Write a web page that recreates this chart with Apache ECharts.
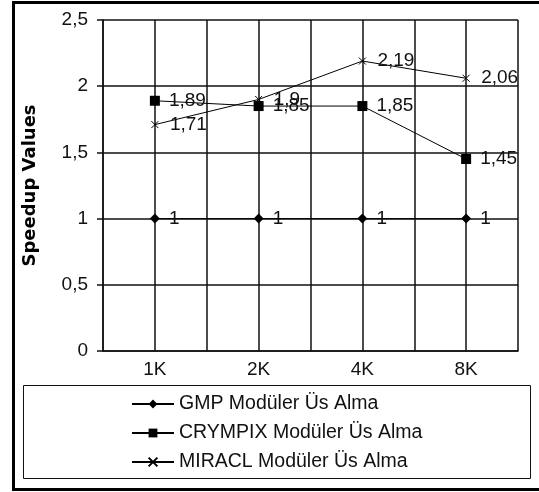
<!DOCTYPE html>
<html>
<head>
<meta charset="utf-8">
<script src="https://cdn.jsdelivr.net/npm/echarts@6/dist/echarts.min.js"></script>
<style>
  html, body { margin: 0; padding: 0; background: #fff; }
  #chart { width: 539px; height: 492px; }
</style>
</head>
<body>
<div id="chart"></div>
<script>
// veriler
const categories = ['1K', '2K', '4K', '8K']
const gmpValues = [1, 1, 1, 1]
const crympixValues = [1.89, 1.85, 1.85, 1.45]
const miraclValues = [1.71, 1.9, 2.19, 2.06]
const seriesNames = [
  'GMP Modüler Üs Alma',
  'CRYMPIX Modüler Üs Alma',
  'MIRACL Modüler Üs Alma',
]

;(function () {
  speedupChart()
})()

function commaFmt(v) {
  return String(v).replace('.', ',')
}

function speedupChart() {
  let chart = echarts.init(document.getElementById('chart'))
  let font = 'Liberation Sans, Arial, sans-serif'
  let gridLine = { lineStyle: { color: '#111', width: 1.5 } }
  let label = {
    show: true,
    position: 'right',
    distance: 9,
    color: '#111',
    fontSize: 19,
    fontFamily: font,
    formatter: (p) => commaFmt(p.value),
  }
  let option = {
    animation: false,
    backgroundColor: '#fff',
    grid: { left: 103, right: 21, top: 20, bottom: 141 },
    xAxis: [
      {
        type: 'category',
        data: categories,
        boundaryGap: true,
        axisLine: { lineStyle: { color: '#111', width: 1.5 } },
        axisTick: { show: false },
        axisLabel: { color: '#111', fontSize: 19, fontFamily: font, margin: 9 },
        splitLine: { show: false },
      },
      {
        // ızgara çizgileri (yarım kategori aralıkları)
        type: 'value',
        min: 0,
        max: 8,
        interval: 1,
        position: 'bottom',
        axisLine: { show: false },
        axisTick: { show: false },
        axisLabel: { show: false },
        splitLine: { show: true, ...gridLine },
      },
    ],
    yAxis: {
      type: 'value',
      min: 0,
      max: 2.5,
      interval: 0.5,
      name: 'Speedup Values',
      nameLocation: 'middle',
      nameGap: 64,
      nameTextStyle: { fontSize: 18, fontWeight: 'bold', fontFamily: 'DejaVu Sans', color: '#000' },
      axisLine: { show: true, lineStyle: { color: '#111', width: 1.5 } },
      axisTick: { show: true, length: 6, lineStyle: { color: '#111', width: 1.5 } },
      axisLabel: {
        color: '#111',
        fontSize: 19,
        fontFamily: font,
        margin: 15,
        formatter: commaFmt,
      },
      splitLine: { show: true, ...gridLine },
    },
    legend: {
      orient: 'vertical',
      left: 126,
      top: 389,
      itemGap: 9,
      itemWidth: 42,
      itemHeight: 11,
      textStyle: { color: '#111', fontSize: 19.5, lineHeight: 19, fontFamily: font },
      data: seriesNames,
    },
    graphic: [
      {
        type: 'rect',
        shape: { x: 23.5, y: 385.5, width: 507, height: 93 },
        style: { fill: 'none', stroke: '#111', lineWidth: 1 },
        z: -1,
      },
      {
        type: 'rect',
        shape: { x: 13.5, y: 2.5, width: 540, height: 487 },
        style: { fill: 'none', stroke: '#000', lineWidth: 3 },
      },
    ],
    series: [
      {
        name: seriesNames[0],
        type: 'line',
        data: gmpValues,
        symbol: 'diamond',
        symbolSize: 10,
        itemStyle: { color: '#000' },
        lineStyle: { color: '#000', width: 1 },
        label: label,
      },
      {
        name: seriesNames[1],
        type: 'line',
        data: crympixValues,
        symbol: 'rect',
        symbolSize: 10,
        itemStyle: { color: '#000' },
        lineStyle: { color: '#000', width: 1 },
        label: label,
      },
      {
        name: seriesNames[2],
        type: 'line',
        data: miraclValues,
        symbol: 'path://M0,0L10,10M10,0L0,10',
        symbolSize: 7,
        itemStyle: { color: 'none', borderColor: '#000', borderWidth: 1 },
        lineStyle: { color: '#000', width: 1 },
        label: label,
      },
    ],
  }
  chart.setOption(option)
}
</script>
</body>
</html>
